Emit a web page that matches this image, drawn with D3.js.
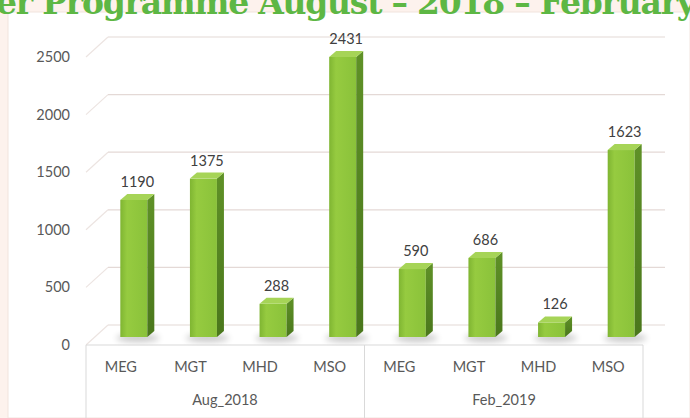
<!DOCTYPE html>
<html>
<head>
<meta charset="utf-8">
<script src="https://cdn.jsdelivr.net/npm/d3@7"></script>
<style>
  body { margin: 0; background: #fdf2ed; }
  svg { display: block; }
</style>
</head>
<body>
<script>
var width = 690, height = 418;

// data
var groups = ["Aug_2018", "Feb_2019"];
var programmes = ["MEG", "MGT", "MHD", "MSO"];
var aug2018 = [1190, 1375, 288, 2431];
var feb2019 = [590, 686, 126, 1623];
var yTicks = [0, 500, 1000, 1500, 2000, 2500];

var rows = [];
[aug2018, feb2019].forEach(function (vals, g) {
    vals.forEach(function (v, i) {
        rows.push({ key: g + "_" + i, group: groups[g], name: programmes[i], value: v });
    });
});

var svg = d3.select("body").append("svg")
    .attr("width", width)
    .attr("height", height);

var defs = svg.append("defs");
var front = defs.append("linearGradient").attr("id", "front")
    .attr("x1", 0).attr("y1", 0).attr("x2", 1).attr("y2", 0);
front.append("stop").attr("offset", 0).attr("stop-color", "#7fb532");
front.append("stop").attr("offset", 0.25).attr("stop-color", "#96cb40");
front.append("stop").attr("offset", 1).attr("stop-color", "#8ac23a");
var side = defs.append("linearGradient").attr("id", "side")
    .attr("x1", 0).attr("y1", 0).attr("x2", 0).attr("y2", 1);
side.append("stop").attr("offset", 0).attr("stop-color", "#5f9127");
side.append("stop").attr("offset", 1).attr("stop-color", "#4a771c");
defs.append("filter").attr("id", "blur")
    .attr("x", "-50%").attr("y", "-50%").attr("width", "200%").attr("height", "200%")
    .append("feGaussianBlur").attr("stdDeviation", 3);

// page + chart panel
svg.append("rect")
    .attr("x", 8).attr("y", 12)
    .attr("width", width - 8).attr("height", height - 12)
    .attr("fill", "#ffffff")
    .attr("stroke", "#f1e4de");

// title strip (cut off at the top, as in the source)
svg.append("text")
    .attr("x", -4).attr("y", 14)
    .attr("font-family", "DejaVu Serif")
    .attr("font-weight", "bold")
    .attr("font-size", 33)
    .attr("fill", "#5db744")
    .attr("textLength", 700)
    .text("er Programme August – 2018 – February");

var x = d3.scaleBand()
    .domain(rows.map(function (d) { return d.key; }))
    .range([86, 643]);
var y = d3.scaleLinear().domain([0, 2500]).range([345, 57]);

var wallDx = 22, wallDy = -20;   // depth of the back wall
var barDx = 9, barDy = -8;       // bars stand mid-floor
var depthX = 7, depthY = -6;     // bar depth
var barW = 27;

// gridlines: side wall + back wall
var grid = svg.append("g");
grid.selectAll(".side").data(yTicks).enter().append("line")
    .attr("x1", 86).attr("y1", function (d) { return y(d); })
    .attr("x2", 86 + wallDx).attr("y2", function (d) { return y(d) + wallDy; })
    .attr("stroke", "#ece4e1").attr("stroke-width", 1.2);
grid.selectAll(".back").data(yTicks).enter().append("line")
    .attr("x1", 86 + wallDx).attr("y1", function (d) { return y(d) + wallDy; })
    .attr("x2", 643 + wallDx).attr("y2", function (d) { return y(d) + wallDy; })
    .attr("stroke", "#e4d9d6").attr("stroke-width", 1.2);

// y axis labels
svg.append("g").selectAll("text").data(yTicks).enter().append("text")
    .attr("x", 70).attr("y", function (d) { return y(d) + 5; })
    .attr("text-anchor", "end")
    .attr("font-family", "Lato")
    .attr("font-size", 14.5)
    .attr("fill", "#595959")
    .text(function (d) { return d; });

// bars
var bars = svg.append("g").selectAll("g").data(rows).enter().append("g");
function left(d) { return x(d.key) + x.bandwidth() / 2 + barDx - barW / 2 + 4; }

bars.append("ellipse")
    .attr("cx", function (d) { return left(d) + barW / 2 + 4; })
    .attr("cy", y(0) + barDy + 1)
    .attr("rx", barW / 2 + 8).attr("ry", 4)
    .attr("fill", "#000").attr("opacity", 0.22)
    .attr("filter", "url(#blur)");

bars.append("rect")
    .attr("x", left)
    .attr("y", function (d) { return y(d.value) + barDy; })
    .attr("width", barW)
    .attr("height", function (d) { return y(0) - y(d.value); })
    .attr("fill", "url(#front)");

bars.append("path")
    .attr("d", function (d) {
        var x0 = left(d) + barW, yt = y(d.value) + barDy, yb = y(0) + barDy;
        return "M" + x0 + "," + yt + "L" + (x0 + depthX) + "," + (yt + depthY) +
            "L" + (x0 + depthX) + "," + (yb + depthY) + "L" + x0 + "," + yb + "Z";
    })
    .attr("fill", "url(#side)");

bars.append("path")
    .attr("d", function (d) {
        var x0 = left(d), yt = y(d.value) + barDy;
        return "M" + x0 + "," + yt + "L" + (x0 + barW) + "," + yt +
            "L" + (x0 + barW + depthX) + "," + (yt + depthY) +
            "L" + (x0 + depthX) + "," + (yt + depthY) + "Z";
    })
    .attr("fill", "#a6d457");

bars.append("text")
    .attr("x", function (d) { return left(d) + (barW + depthX) / 2; })
    .attr("y", function (d) { return y(d.value) + barDy + depthY - 7; })
    .attr("text-anchor", "middle")
    .attr("font-family", "Lato")
    .attr("font-size", 14.5)
    .attr("fill", "#404040")
    .text(function (d) { return d.value; });

// category axis box
var axis = svg.append("g").attr("stroke", "#d9d9d9").attr("fill", "none");
axis.append("line").attr("x1", 86).attr("x2", 643).attr("y1", y(0)).attr("y2", y(0));
[86, 364.5, 643].forEach(function (px) {
    axis.append("line").attr("x1", px).attr("x2", px).attr("y1", y(0)).attr("y2", height);
});

svg.append("g").selectAll("text").data(rows).enter().append("text")
    .attr("x", function (d) { return x(d.key) + x.bandwidth() / 2; })
    .attr("y", 372)
    .attr("text-anchor", "middle")
    .attr("font-family", "Lato")
    .attr("font-size", 14.5)
    .attr("fill", "#595959")
    .text(function (d) { return d.name; });

svg.append("g").selectAll("text").data(groups).enter().append("text")
    .attr("x", function (d, i) { return i === 0 ? 225 : 504; })
    .attr("y", 405)
    .attr("text-anchor", "middle")
    .attr("font-family", "Lato")
    .attr("font-size", 14.5)
    .attr("fill", "#595959")
    .text(function (d) { return d; });
</script>
</body>
</html>
